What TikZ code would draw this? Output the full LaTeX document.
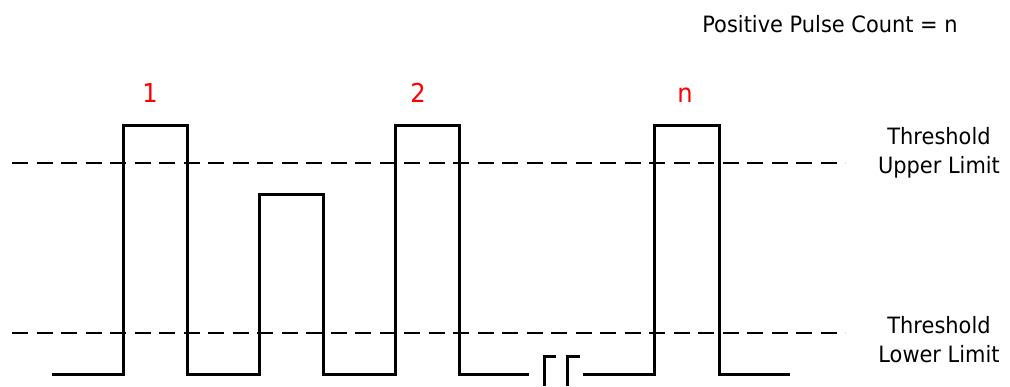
\documentclass[tikz,border=0pt]{standalone}
\usepackage{fontspec}
\setmainfont[FakeStretch=0.93]{DejaVu Sans}
\begin{document}
\begin{tikzpicture}[x=1pt,y=-1pt,
  wave/.style={line width=3pt,black},
  thresh/.style={line width=2pt,black,dash pattern=on 16pt off 8.5pt},
  lbl/.style={font=\fontsize{22.5}{27}\selectfont,inner sep=0pt,anchor=base},
  cnt/.style={font=\fontsize{26}{30}\selectfont,inner sep=0pt,anchor=base,red}]
\useasboundingbox (0,0) rectangle (1010,387);
% threshold lines
\draw[thresh] (12,163) -- (845,163);
\draw[thresh] (12,333) -- (845,333);
% waveform
\draw[wave] (52,375) -- (123,375) -- (123,126) -- (187,126) -- (187,375)
  -- (259,375) -- (259,195) -- (323,195) -- (323,375)
  -- (395,375) -- (395,126) -- (459,126) -- (459,375) -- (529,375);
\draw[wave] (544,386) -- (544,357) -- (556,357);
\draw[wave] (567,386) -- (567,357) -- (580,357);
\draw[wave] (583,375) -- (654,375) -- (654,126) -- (719,126) -- (719,375) -- (790,375);
% labels
\node[cnt] (c1) at (150,103) {1};
\node[cnt] (c2) at (418,103) {2};
\node[cnt] (cn) at (685,103) {n};
\node[lbl] (count) at (830,33) {Positive Pulse Count = n};
\node[lbl] (tu1) at (939,145) {Threshold};
\node[lbl] (tu2) at (939,174) {Upper Limit};
\node[lbl] (tl1) at (939,334) {Threshold};
\node[lbl] (tl2) at (939,363) {Lower Limit};
\end{tikzpicture}
\end{document}
